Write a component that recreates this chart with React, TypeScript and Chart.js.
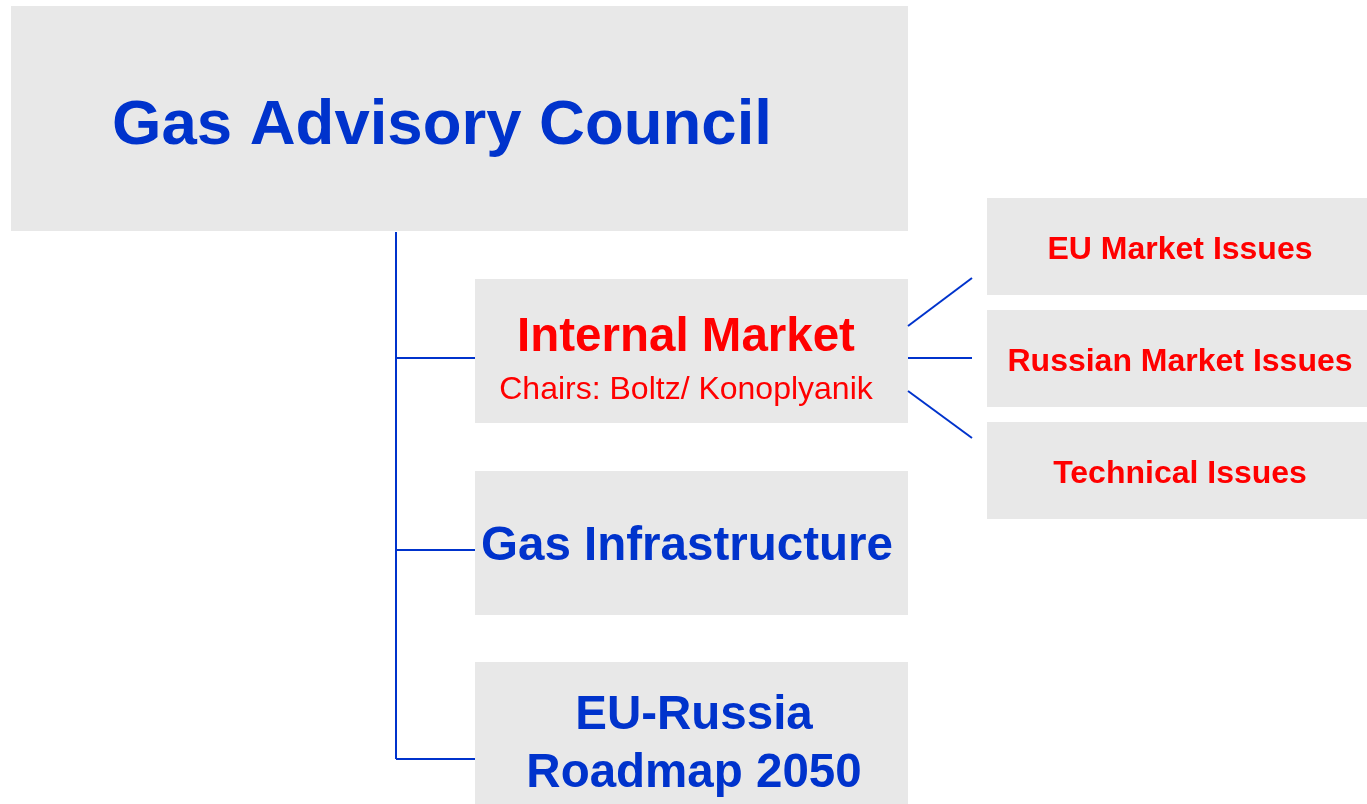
import React, { useEffect, useRef } from "react";
import { Chart, registerables } from "chart.js";

Chart.register(...registerables);

// Nodes of the organisation chart (box extents in chart units, 0..1367 x 0..804)
const nodeNames = ["council", "internal", "infra", "roadmap", "eu", "russian", "technical"];
const nodeX0 = [11, 475, 475, 475, 987, 987, 987];
const nodeX1 = [908, 908, 908, 908, 1367, 1367, 1367];
const nodeY0 = [6, 279, 471, 662, 198, 310, 422];
const nodeY1 = [231, 423, 615, 804, 295, 407, 519];

// Text labels: string, anchor x, baseline y, size, weight, colour
const labelTexts = [
  "Gas Advisory Council",
  "Internal Market",
  "Chairs: Boltz/ Konoplyanik",
  "Gas Infrastructure",
  "EU-Russia",
  "Roadmap 2050",
  "EU Market Issues",
  "Russian Market Issues",
  "Technical Issues",
];
const labelX = [442, 686, 686, 687, 694, 694, 1180, 1180, 1180];
const labelY = [144, 351, 399, 560, 729, 787, 259, 371, 483];
const labelSize = [63.5, 47.5, 32, 47.5, 47.5, 47.5, 32, 32, 32];
const labelBold = [true, true, false, true, true, true, true, true, true];
const labelColor = ["#0033cc", "#ff0000", "#ff0000", "#0033cc", "#0033cc", "#0033cc", "#ff0000", "#ff0000", "#ff0000"];

// Connector segments
const connX0 = [396, 396, 396, 396, 908, 908, 908];
const connY0 = [232, 358, 550, 759, 326, 358, 391];
const connX1 = [396, 475, 475, 475, 972, 972, 972];
const connY1 = [759, 358, 550, 759, 278, 358, 438];

const BOX_FILL = "#e8e8e8";
const LINE_COLOR = "#0033cc";

const orgPlugin = {
  id: "orgBoxes",
  beforeDatasetsDraw(chart: any) {
    const { ctx, scales } = chart;
    const xs = scales.x;
    const ys = scales.y;
    ctx.save();
    ctx.fillStyle = BOX_FILL;
    for (let i = 0; i < nodeNames.length; i++) {
      const px0 = xs.getPixelForValue(nodeX0[i]);
      const px1 = xs.getPixelForValue(nodeX1[i]);
      const py0 = ys.getPixelForValue(nodeY0[i]);
      const py1 = ys.getPixelForValue(nodeY1[i]);
      ctx.fillRect(Math.min(px0, px1), Math.min(py0, py1), Math.abs(px1 - px0), Math.abs(py1 - py0));
    }
    ctx.restore();
  },
  afterDatasetsDraw(chart: any) {
    const { ctx, scales } = chart;
    const xs = scales.x;
    const ys = scales.y;
    ctx.save();
    ctx.textAlign = "center";
    ctx.textBaseline = "alphabetic";
    for (let i = 0; i < labelTexts.length; i++) {
      ctx.font = `${labelBold[i] ? "bold " : ""}${labelSize[i]}px "Liberation Sans", Arial, sans-serif`;
      ctx.fillStyle = labelColor[i];
      ctx.fillText(labelTexts[i], xs.getPixelForValue(labelX[i]), ys.getPixelForValue(labelY[i]));
    }
    ctx.restore();
  },
};

export default function App() {
  const canvasRef = useRef<HTMLCanvasElement | null>(null);

  useEffect(() => {
    document.body.style.margin = "0";
    const canvas = canvasRef.current;
    if (!canvas) return;
    const datasets = connX0.map((_, i) => ({
      type: "line" as const,
      label: `conn${i}`,
      data: [
        { x: connX0[i], y: connY0[i] },
        { x: connX1[i], y: connY1[i] },
      ],
      borderColor: LINE_COLOR,
      borderWidth: 2,
      pointRadius: 0,
      showLine: true,
      fill: false,
      tension: 0,
    }));
    const chart = new Chart(canvas, {
      type: "scatter",
      data: { datasets },
      options: {
        animation: false,
        responsive: false,
        maintainAspectRatio: false,
        devicePixelRatio: 1,
        layout: { padding: 0 },
        plugins: {
          legend: { display: false },
          tooltip: { enabled: false },
          title: { display: false },
        },
        events: [],
        scales: {
          x: { type: "linear", min: 0, max: 1367, display: false },
          y: { type: "linear", min: 0, max: 804, reverse: true, display: false },
        },
      },
      plugins: [orgPlugin],
    });
    return () => chart.destroy();
  }, []);

  return (
    <div style={{ position: "fixed", left: 0, top: 0, width: 1367, height: 804, background: "#ffffff" }}>
      <canvas ref={canvasRef} width={1367} height={804} style={{ width: 1367, height: 804, display: "block" }} />
    </div>
  );
}
